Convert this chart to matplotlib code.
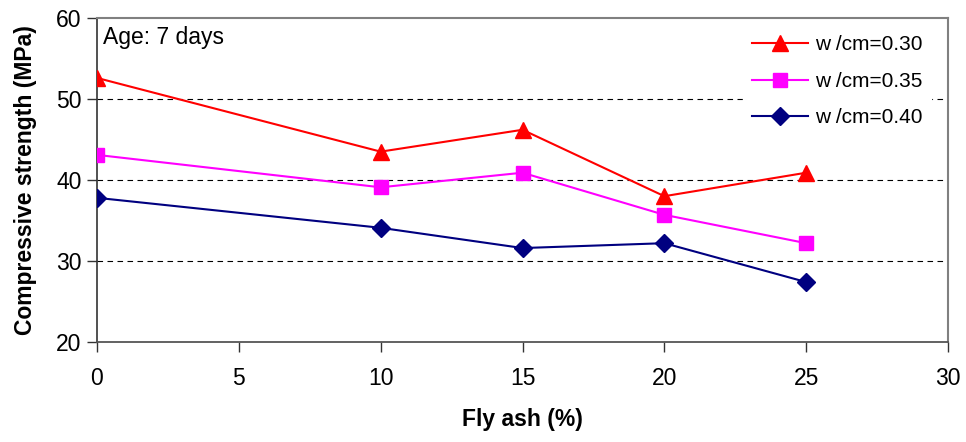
import matplotlib.pyplot as plt

fly_ash = [0, 10, 15, 20, 25]
wcm_030 = [52.6, 43.5, 46.2, 38.0, 40.9]
wcm_035 = [43.1, 39.1, 40.9, 35.7, 32.2]
wcm_040 = [37.8, 34.1, 31.6, 32.2, 27.4]
labels = ['w /cm=0.30', 'w /cm=0.35', 'w /cm=0.40']

plt.rcParams['font.family'] = ['Liberation Sans', 'DejaVu Sans']

fig = plt.figure(figsize=(9.66, 4.42), dpi=100)
ax = fig.add_axes([0.1004, 0.2262, 0.8810, 0.7331])

for yv in [30, 40, 50]:
    ax.axhline(yv, color='black', lw=0.8, ls=(0, (5, 4)), zorder=1)

ax.plot(fly_ash, wcm_030, color='red', marker='^', ms=12, lw=1.5, label=labels[0], zorder=3)
ax.plot(fly_ash, wcm_035, color='magenta', marker='s', ms=10, lw=1.5, label=labels[1], zorder=3)
ax.plot(fly_ash, wcm_040, color='#000080', marker='D', ms=9, lw=1.5, label=labels[2], zorder=3)

ax.set_xlim(0, 30)
ax.set_ylim(20, 60)
ax.set_xticks([0, 5, 10, 15, 20, 25, 30])
ax.set_yticks([20, 30, 40, 50, 60])
ax.tick_params(axis='both', direction='out', length=7, width=1, color='#333333')
ax.tick_params(axis='y', labelsize=16.5, pad=4)
ax.tick_params(axis='x', labelsize=16.5, pad=11)

for s in ['top', 'right']:
    ax.spines[s].set_color('#808080')
    ax.spines[s].set_linewidth(1.5)
ax.spines['bottom'].set_color('#555555')
ax.spines['bottom'].set_linewidth(1.3)
ax.spines['left'].set_color('#333333')
ax.spines['left'].set_linewidth(1.2)

ax.set_ylabel('Compressive strength (MPa)', fontsize=16.5, fontweight='bold', labelpad=14)
ax.set_xlabel('Fly ash (%)', fontsize=16.5, fontweight='bold', labelpad=13)

ax.text(0.2, 59.0, 'Age: 7 days', fontsize=16.5, va='top', ha='left')

leg = ax.legend(loc='upper right', bbox_to_anchor=(0.985, 0.985), fontsize=15,
                frameon=True, fancybox=False, edgecolor='white', framealpha=1,
                handlelength=2.7, handletextpad=0.35, labelspacing=0.84,
                borderaxespad=0.2)

fig.savefig('out.png', dpi=100)
